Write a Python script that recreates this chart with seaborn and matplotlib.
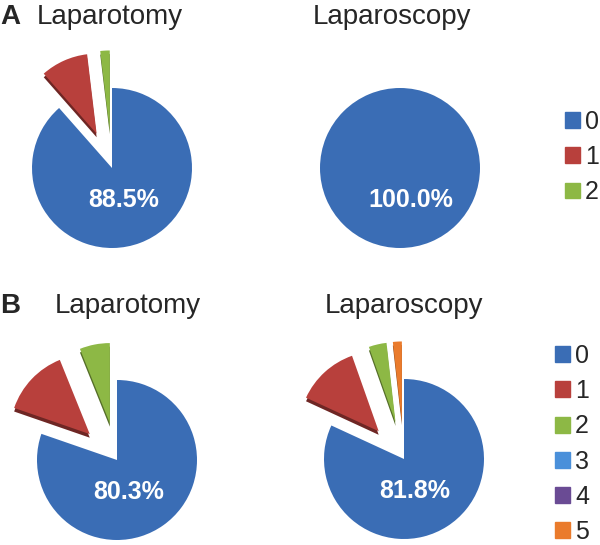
"""
Pie charts: distribution of complication grades, laparotomy vs laparoscopy.
"""
import matplotlib
matplotlib.use("Agg")
import matplotlib.pyplot as plt
import matplotlib.colors as mcolors
from matplotlib.patches import Patch
import seaborn as sns

sns.set_style("white")
plt.rcParams["font.family"] = ["Liberation Sans", "DejaVu Sans"]

# data (percent of patients per grade)
groups = ["Laparotomy", "Laparoscopy"]
labels_a = ["0", "1", "2"]
laparotomy_a = [88.5, 9.6, 1.9]
laparoscopy_a = [100.0, 0.0, 0.0]
labels_b = ["0", "1", "2", "3", "4", "5"]
laparotomy_b = [80.3, 13.6, 6.1, 0.0, 0.0, 0.0]
laparoscopy_b = [81.8, 12.7, 3.6, 0.0, 0.0, 1.8]

colors = ["#3A6DB5", "#B8403C", "#8DB845", "#4A90DA", "#6A4B94", "#EA7B2C"]

W, H = 600, 545
R = 80      # pie radius in pixels
S = 280     # axes box in pixels

fig = plt.figure(figsize=(W / 100, H / 100), dpi=100)


def darker(c, f=0.6):
    r, g, b = mcolors.to_rgb(c)
    return (r * f, g * f, b * f)


def draw_pie(cx, cy, values):
    ax = fig.add_axes([(cx - S / 2) / W, 1 - (cy + S / 2) / H, S / W, S / H])
    n = len(values)
    cols = colors[:n]
    explode = [0] + [0.47] * (n - 1)
    # darker copy of the pulled-out slices underneath, for a bit of depth
    shade = ["none"] + [darker(c) for c in cols[1:]]
    ax.pie(values, colors=shade, startangle=90, counterclock=False,
           explode=explode, center=(0, -0.045), wedgeprops=dict(linewidth=0))
    ax.pie(values, colors=cols, startangle=90, counterclock=False,
           explode=explode, wedgeprops=dict(linewidth=0))
    ax.text(0.14, -0.4, f"{values[0]:.1f}%", color="white", fontsize=18,
            fontweight="bold", ha="center", va="center")
    lim = S / 2 / R
    ax.set_xlim(-lim, lim)
    ax.set_ylim(-lim, lim)
    ax.set_aspect("equal")
    ax.axis("off")
    return ax


draw_pie(112, 168, laparotomy_a)
draw_pie(400, 168, laparoscopy_a)
draw_pie(117, 460, laparotomy_b)
draw_pie(404, 459, laparoscopy_b)

# panel letters and titles
fig.text(0 / W, 1 - 24 / H, "A", fontsize=20, fontweight="bold", va="baseline")
fig.text(37 / W, 1 - 24 / H, groups[0], fontsize=20, va="baseline")
fig.text(313 / W, 1 - 24 / H, groups[1], fontsize=20, va="baseline")
fig.text(0 / W, 1 - 313 / H, "B", fontsize=20, fontweight="bold", va="baseline")
fig.text(55 / W, 1 - 313 / H, groups[0], fontsize=20, va="baseline")
fig.text(325 / W, 1 - 313 / H, groups[1], fontsize=20, va="baseline")

# legends
legend_kw = dict(loc="center left", frameon=False, fontsize=18, handlelength=0.6,
                 handleheight=0.6, handletextpad=0.2, labelspacing=0.45,
                 borderpad=0, borderaxespad=0)
handles_a = [Patch(color=colors[i], label=l) for i, l in enumerate(labels_a)]
fig.legend(handles=handles_a, bbox_to_anchor=(565 / W, 1 - 157 / H), **legend_kw)
handles_b = [Patch(color=colors[i], label=l) for i, l in enumerate(labels_b)]
fig.legend(handles=handles_b, bbox_to_anchor=(555 / W, 1 - 444 / H), **legend_kw)

fig.savefig("out.png", dpi=100)
